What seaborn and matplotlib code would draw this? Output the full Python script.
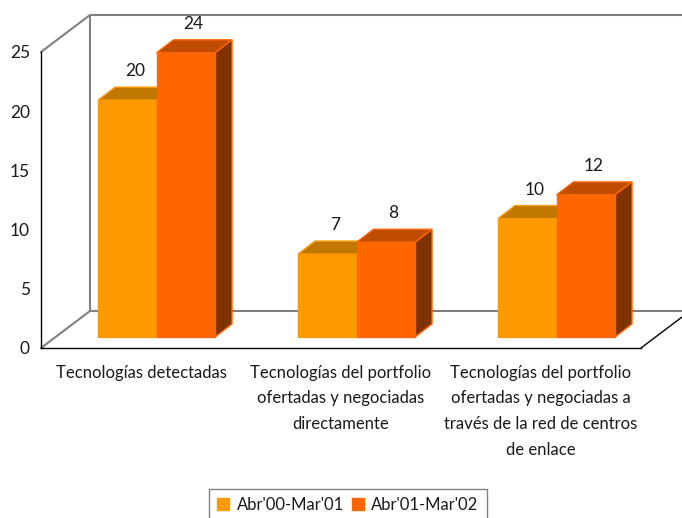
import matplotlib
matplotlib.use("Agg")
import matplotlib.pyplot as plt
from matplotlib.patches import Polygon, Patch
from matplotlib.transforms import Affine2D
import seaborn as sns
import pandas as pd

categorias = [
    "Tecnologías detectadas",
    "Tecnologías del portfolio\nofertadas y negociadas\ndirectamente",
    "Tecnologías del portfolio\nofertadas y negociadas a\ntravés de la red de centros\nde enlace",
]
periodos = ["Abr'00-Mar'01", "Abr'01-Mar'02"]
valores_0001 = [20, 7, 10]
valores_0102 = [24, 8, 12]

color_frente = ["#FF9900", "#FF6600"]
color_techo = ["#C07800", "#C04C00"]
color_lado = ["#804C00", "#803300"]

df = pd.DataFrame({
    "categoria": categorias * 2,
    "periodo": [periodos[0]] * 3 + [periodos[1]] * 3,
    "valor": valores_0001 + valores_0102,
})

sns.set_style("white")
plt.rcParams["font.family"] = ["Lato", "DejaVu Sans"]
texto = "#1a1a1a"

W, H, DPI = 682, 518, 100
fig = plt.figure(figsize=(W / DPI, H / DPI), dpi=DPI)
# front plane of the 3D box, in pixels
x_izq, x_der, y_cero, y_tope = 41, 641, 348, 52
ax = fig.add_axes([x_izq / W, (H - y_cero) / H, (x_der - x_izq) / W, (y_cero - y_tope) / H])

sns.barplot(data=df, x="categoria", y="valor", hue="periodo", palette=color_frente,
            width=0.585, gap=0, ax=ax, legend=False, saturation=1)
ax.set_xlim(-0.5, 2.5)
ax.set_ylim(0, 25)

px_x = (x_der - x_izq) / 3.0
px_y = (y_cero - y_tope) / 25.0

# depth offsets (pixels): bar front plane, bar depth, full box depth
fdx, fdy = 15.5, 11
ddx, ddy = 17, 13
bdx, bdy = 49 / px_x, 37 / px_y

desplazado = ax.transData + Affine2D().translate(fdx, fdy)
dX, dY = ddx / px_x, ddy / px_y

for k, cont in enumerate(ax.containers):
    for barra in cont.patches:
        z = 3 + k
        barra.set_transform(desplazado)
        barra.set_edgecolor(color_frente[k])
        barra.set_linewidth(1)
        barra.set_zorder(z + 0.2)
        barra.set_clip_on(False)
        x0, w, h = barra.get_x(), barra.get_width(), barra.get_height()
        techo = Polygon([(x0, h), (x0 + w, h), (x0 + w + dX, h + dY), (x0 + dX, h + dY)],
                        closed=True, facecolor=color_techo[k], edgecolor=color_frente[k],
                        lw=1, transform=desplazado, zorder=z, clip_on=False)
        lado = Polygon([(x0 + w, 0), (x0 + w, h), (x0 + w + dX, h + dY), (x0 + w + dX, dY)],
                       closed=True, facecolor=color_lado[k], edgecolor=color_frente[k],
                       lw=1, transform=desplazado, zorder=z, clip_on=False)
        ax.add_patch(techo)
        ax.add_patch(lado)
        ax.annotate(f"{h:g}", xy=(x0 + w / 2, h), xycoords=desplazado,
                    xytext=(ddx / 2 - 1, ddy + 8), textcoords="offset pixels",
                    ha="center", va="bottom", fontsize=12.5, color=texto,
                    annotation_clip=False)

# back wall and floor of the box
gris = "#808080"
x_fin = 2.5 + bdx
ax.plot([-0.5, -0.5 + bdx, x_fin], [25, 25 + bdy, 25 + bdy], color=gris, lw=1.5, clip_on=False, zorder=1)
ax.plot([-0.5 + bdx, -0.5 + bdx], [bdy, 25 + bdy], color=gris, lw=1.5, clip_on=False, zorder=1)
ax.plot([-0.5, -0.5 + bdx, x_fin], [0, bdy, bdy], color=gris, lw=1.5, clip_on=False, zorder=1)
ax.plot([2.5, x_fin], [0, bdy], color="black", lw=1, clip_on=False, zorder=1)

for s in ["top", "right"]:
    ax.spines[s].set_visible(False)
for s in ["left", "bottom"]:
    ax.spines[s].set_color("black")
    ax.spines[s].set_linewidth(1)

ax.set_yticks([0, 5, 10, 15, 20, 25])
ax.tick_params(axis="y", length=5, width=1, color="black", labelsize=12.5, pad=3, labelcolor=texto)
ax.set_xticks([0, 1, 2])
ax.set_xticklabels(categorias, fontsize=12, linespacing=1.74, color=texto)
ax.tick_params(axis="x", which="major", length=0, pad=12)
ax.set_xticks([-0.5, 0.5, 1.5, 2.5], minor=True)
ax.tick_params(axis="x", which="minor", length=5, width=1, color="black")
ax.set_xlabel("")
ax.set_ylabel("")

handles = [Patch(facecolor=c, edgecolor=c) for c in color_frente]
leg = fig.legend(handles, periodos, loc="center", bbox_to_anchor=(348 / W, 1 - 505 / H),
                 ncol=2, frameon=True, fancybox=False, edgecolor="#606060",
                 fontsize=12, handlelength=0.7, handleheight=0.7, handletextpad=0.45,
                 columnspacing=0.5, borderpad=0.5, borderaxespad=0)
leg.get_frame().set_linewidth(1)
for t in leg.get_texts():
    t.set_color(texto)

fig.savefig("out.png", dpi=DPI)
